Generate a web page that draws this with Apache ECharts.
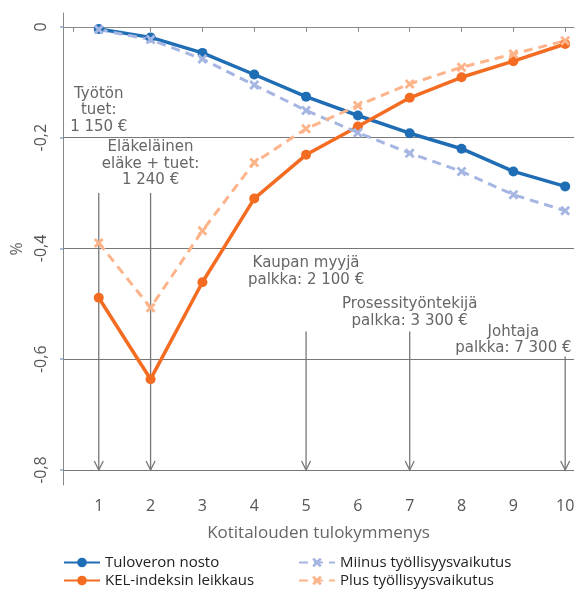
<!DOCTYPE html>
<html>
<head>
<meta charset="utf-8">
<script src="https://cdn.jsdelivr.net/npm/echarts@6.0.0/dist/echarts.min.js"></script>
<style>
  html, body { margin: 0; padding: 0; background: #fff; }
  #chart { width: 583px; height: 598px; }
</style>
</head>
<body>
<div id="chart"></div>
<script>
// tulokymmenykset
const deciles = [1, 2, 3, 4, 5, 6, 7, 8, 9, 10];
const xTicks = [0.5, 1, 2, 3, 4, 5, 6, 7, 8, 9, 10];
const yTicks = [0, -0.2, -0.4, -0.6, -0.8];

// muutos, %
const tuloveronNosto = [-0.004, -0.019, -0.047, -0.086, -0.126, -0.160, -0.192, -0.220, -0.261, -0.288];
const kelLeikkaus = [-0.489, -0.636, -0.461, -0.310, -0.231, -0.180, -0.128, -0.091, -0.062, -0.031];
const miinusTyollisyys = [-0.005, -0.023, -0.058, -0.105, -0.151, -0.191, -0.228, -0.261, -0.303, -0.332];
const plusTyollisyys = [-0.390, -0.507, -0.368, -0.245, -0.184, -0.142, -0.103, -0.073, -0.049, -0.025];

// esimerkkikotitaloudet (nuolet)
const arrowX = [1, 2, 5, 7, 10];
const arrowTop = [-0.30, -0.30, -0.55, -0.55, -0.595];
const arrowBottom = -0.8;
const arrowLabels = [
  'Työtön\ntuet:\n1 150 €',
  'Eläkeläinen\neläke + tuet:\n1 240 €',
  'Kaupan myyjä\npalkka: 2 100 €',
  'Prosessityöntekijä\npalkka: 3 300 €',
  'Johtaja\npalkka: 7 300 €'
];
const labelX = [1, 2, 5, 7, 9];
const labelBottom = [-0.195, -0.292, -0.472, -0.546, -0.595];

const FONT = '"Open Sans"';
const NOTE_FONT = '"DejaVu Sans"';
const xSymbol = 'path://M2,0 L5,3 L8,0 L10,2 L7,5 L10,8 L8,10 L5,7 L2,10 L0,8 L3,5 L0,2 Z';

const chart = echarts.init(document.getElementById('chart'));

function lineSeries(name, values, color, dashed) {
  return {
    name: name,
    type: 'line',
    z: 3,
    data: deciles.map((d, i) => [d, values[i]]),
    symbol: dashed ? xSymbol : 'circle',
    symbolSize: 10,
    itemStyle: { color: color },
    lineStyle: { color: color, width: dashed ? 3 : 3.5, type: dashed ? [9, 6] : 'solid' },
    emphasis: { disabled: true },
    animation: false
  };
}

const legendBase = {
  orient: 'vertical',
  top: 550,
  height: 48,
  itemWidth: 36, itemHeight: 12, itemGap: 3,
  textStyle: { fontSize: 15, color: '#222', fontFamily: FONT }
};

chart.setOption({
  animation: false,
  textStyle: { fontFamily: FONT },
  grid: { left: 63, right: 9, top: 13, bottom: 113 },
  legend: [
    Object.assign({ data: ['Tuloveron nosto', 'KEL-indeksin leikkaus'], left: 58 }, legendBase),
    Object.assign({ data: ['Miinus työllisyysvaikutus', 'Plus työllisyysvaikutus'], left: 293 }, legendBase)
  ],
  xAxis: {
    type: 'value',
    min: 0.31, max: 10.17,
    name: 'Kotitalouden tulokymmenys',
    nameLocation: 'middle',
    nameGap: 40,
    nameTextStyle: { fontSize: 17, color: '#666' },
    axisLine: { show: true, lineStyle: { color: '#888', width: 1 } },
    axisTick: { show: true, customValues: xTicks, length: 5, lineStyle: { color: '#888' } },
    axisLabel: { customValues: deciles, margin: 13, fontSize: 16, color: '#555' },
    splitLine: { show: false }
  },
  yAxis: {
    type: 'value',
    min: -0.827, max: 0.025,
    name: '%',
    nameLocation: 'middle',
    nameRotate: 90,
    nameGap: 38,
    nameTextStyle: { fontSize: 16, color: '#666' },
    axisLine: { show: true, lineStyle: { color: '#888', width: 1 } },
    axisTick: { show: true, customValues: yTicks, length: 3, lineStyle: { color: '#a9bde0', width: 2 } },
    axisLabel: {
      customValues: yTicks, rotate: 90, margin: 14, fontSize: 16, color: '#555',
      formatter: v => v === 0 ? '0' : String(v).replace('.', ',')
    },
    splitLine: { show: true, lineStyle: { color: '#777', width: 1 } }
  },
  series: [
    {
      type: 'custom',
      name: 'nuolet',
      z: 1,
      clip: false,
      silent: true,
      data: arrowX.map((x, i) => [x, arrowTop[i]]),
      renderItem: function (params, api) {
        const i = params.dataIndex;
        const top = api.coord([arrowX[i], arrowTop[i]]);
        const bot = api.coord([arrowX[i], arrowBottom]);
        const lab = api.coord([labelX[i], labelBottom[i]]);
        return {
          type: 'group',
          children: [
            { type: 'line', shape: { x1: top[0], y1: top[1], x2: bot[0], y2: bot[1] },
              style: { stroke: '#777', lineWidth: 1.3 } },
            { type: 'polyline',
              shape: { points: [[bot[0] - 4.5, bot[1] - 9], [bot[0], bot[1]], [bot[0] + 4.5, bot[1] - 9]] },
              style: { stroke: '#777', fill: null, lineWidth: 1.3 } },
            { type: 'text', x: lab[0], y: lab[1],
              style: { text: arrowLabels[i], align: 'center', verticalAlign: 'bottom',
                       font: '15px ' + NOTE_FONT, fill: '#666', lineHeight: 16.5 } }
          ]
        };
      }
    },
    lineSeries('Tuloveron nosto', tuloveronNosto, '#1f6db5', false),
    lineSeries('KEL-indeksin leikkaus', kelLeikkaus, '#f36c21', false),
    lineSeries('Miinus työllisyysvaikutus', miinusTyollisyys, '#a6b6e2', true),
    lineSeries('Plus työllisyysvaikutus', plusTyollisyys, '#fdb48a', true)
  ]
});
</script>
</body>
</html>
